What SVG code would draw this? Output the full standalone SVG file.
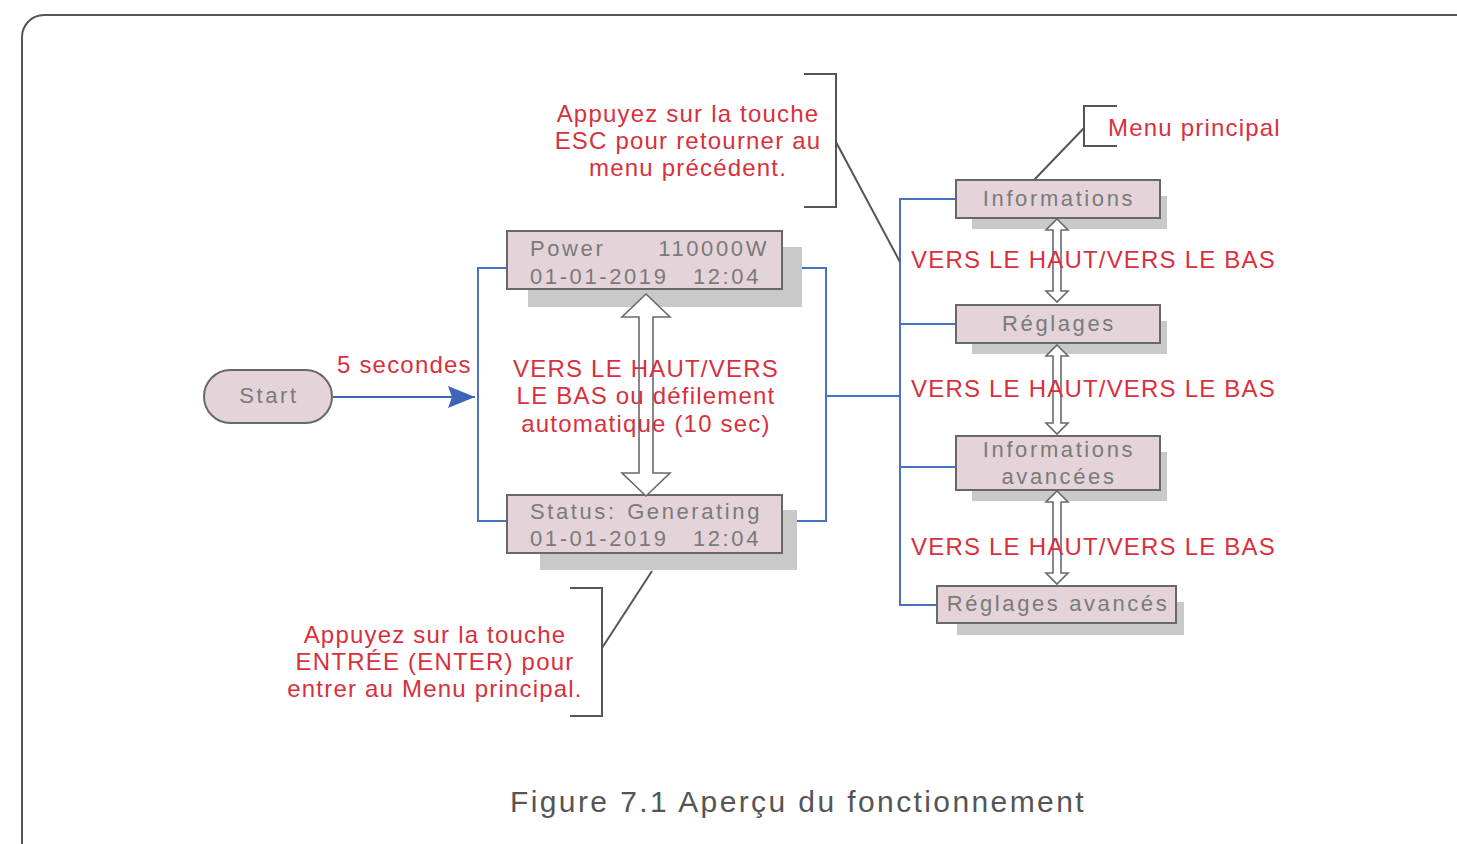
<svg xmlns="http://www.w3.org/2000/svg" width="1457" height="844" viewBox="0 0 1457 844">
<style>
.shadow{fill:#c9c9c9}
.box{fill:#e4d4d9;stroke:#686868;stroke-width:2}
.bt{font-family:"Liberation Sans",Arial,sans-serif;font-size:22px;fill:#7a7a7a;letter-spacing:2.6px}
.rt{font-family:"Liberation Sans",Arial,sans-serif;font-size:24px;fill:#d8303d;letter-spacing:1.2px}
.blue{fill:none;stroke:#4a72c4;stroke-width:2}
.gray{fill:none;stroke:#555;stroke-width:2}
.dbl{fill:#fff;stroke:#6a6a6a;stroke-width:1.6;stroke-linejoin:miter}
.cap{font-family:"Liberation Sans",Arial,sans-serif;font-size:30px;fill:#555;letter-spacing:2.4px}
</style>
<defs>
<marker id="ah" markerWidth="28" markerHeight="24" refX="27" refY="11" orient="auto" markerUnits="userSpaceOnUse">
<path d="M0,0 L27,11 L0,22 L4,11 Z" fill="#3d64b8"/>
</marker>
</defs>
<rect x="22" y="15" width="1500" height="900" rx="22" fill="#fff" stroke="#555" stroke-width="2"/>

<g id="connectors">
<line x1="333" y1="397" x2="475" y2="397" stroke="#3d64b8" stroke-width="2" marker-end="url(#ah)"/>
<path class="blue" d="M506,268 H478 V521 H506"/>
<path class="blue" d="M782,268 H826 V521 H782"/>
<path class="blue" d="M826,396 H900"/>
<path class="blue" d="M956,199 H900 V605 H937"/>
<path class="blue" d="M900,324 H956"/>
<path class="blue" d="M900,467 H956"/>
<path class="gray" d="M804,74 H836 V207 H804"/>
<path class="gray" d="M836,142 L900,262"/>
<path class="gray" d="M1117,106 H1084 V146 H1117"/>
<path class="gray" d="M1084,128 L1034,180"/>
<path class="gray" d="M570,588 H602 V716 H570"/>
<path class="gray" d="M602,648 L652,571"/>
</g>

<g id="start">
<rect class="box" x="204" y="370" width="128" height="53" rx="26.5"/>
<text class="bt" x="269" y="403" text-anchor="middle">Start</text>
</g>

<g id="power">
<rect class="shadow" x="528" y="247" width="274" height="60"/>
<rect class="box" x="507" y="231" width="275" height="58"/>
<text class="bt" x="530" y="256">Power</text>
<text class="bt" x="769" y="256" text-anchor="end">110000W</text>
<text class="bt" x="530" y="284">01-01-2019</text>
<text class="bt" x="761" y="284" text-anchor="end">12:04</text>
</g>

<g id="status">
<rect class="shadow" x="540" y="510" width="257" height="60"/>
<rect class="box" x="507" y="495" width="275" height="58"/>
<text class="bt" x="530" y="519">Status:</text>
<text class="bt" x="762" y="519" text-anchor="end">Generating</text>
<text class="bt" x="530" y="546">01-01-2019</text>
<text class="bt" x="761" y="546" text-anchor="end">12:04</text>
</g>

<g id="informations">
<rect class="shadow" x="972" y="196" width="195" height="33"/>
<rect class="box" x="956" y="180" width="204" height="38"/>
<text class="bt" x="1059" y="206" text-anchor="middle">Informations</text>
</g>

<g id="reglages">
<rect class="shadow" x="972" y="321" width="195" height="33"/>
<rect class="box" x="956" y="305" width="204" height="38"/>
<text class="bt" x="1059" y="331" text-anchor="middle">Réglages</text>
</g>

<g id="informations-avancees">
<rect class="shadow" x="972" y="452" width="195" height="49"/>
<rect class="box" x="956" y="436" width="204" height="54"/>
<text class="bt" x="1059" y="457" text-anchor="middle">Informations</text>
<text class="bt" x="1059" y="484" text-anchor="middle">avancées</text>
</g>

<g id="reglages-avances">
<rect class="shadow" x="957" y="602" width="227" height="33"/>
<rect class="box" x="937" y="586" width="239" height="37"/>
<text class="bt" x="1058" y="611" text-anchor="middle">Réglages avancés</text>
</g>

<g id="updown-arrows">
<path class="dbl" d="M646,294 L670,317 L653,317 L653,473 L670,473 L646,496 L622,473 L639,473 L639,317 L622,317 Z"/>
<path class="dbl" d="M1057,219 L1068,230 L1061,230 L1061,291 L1068,291 L1057,302 L1046,291 L1053,291 L1053,230 L1046,230 Z"/>
<path class="dbl" d="M1057,345 L1068,356 L1061,356 L1061,423 L1068,423 L1057,434 L1046,423 L1053,423 L1053,356 L1046,356 Z"/>
<path class="dbl" d="M1057,491 L1068,502 L1061,502 L1061,573 L1068,573 L1057,584 L1046,573 L1053,573 L1053,502 L1046,502 Z"/>
</g>

<g id="labels">
<text class="rt" x="688" y="122" text-anchor="middle">Appuyez sur la touche</text>
<text class="rt" x="688" y="149" text-anchor="middle">ESC pour retourner au</text>
<text class="rt" x="688" y="176" text-anchor="middle">menu précédent.</text>
<text class="rt" x="1108" y="136">Menu principal</text>
<text class="rt" x="337" y="373">5 secondes</text>
<text class="rt" x="646" y="377" text-anchor="middle">VERS LE HAUT/VERS</text>
<text class="rt" x="646" y="404" text-anchor="middle">LE BAS ou défilement</text>
<text class="rt" x="646" y="432" text-anchor="middle">automatique (10 sec)</text>
<text class="rt" x="911" y="268">VERS LE HAUT/VERS LE BAS</text>
<text class="rt" x="911" y="397">VERS LE HAUT/VERS LE BAS</text>
<text class="rt" x="911" y="555">VERS LE HAUT/VERS LE BAS</text>
<text class="rt" x="435" y="643" text-anchor="middle">Appuyez sur la touche</text>
<text class="rt" x="435" y="670" text-anchor="middle">ENTRÉE (ENTER) pour</text>
<text class="rt" x="435" y="697" text-anchor="middle">entrer au Menu principal.</text>
</g>

<text class="cap" x="798" y="812" text-anchor="middle">Figure 7.1 Aperçu du fonctionnement</text>
</svg>
